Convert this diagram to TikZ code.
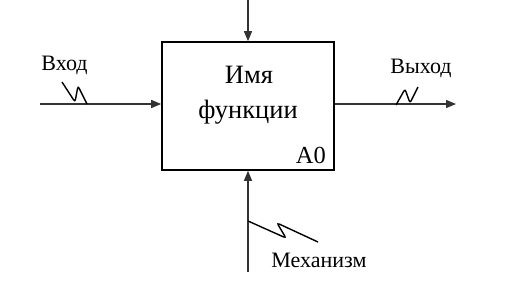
\documentclass[tikz,border=0pt]{standalone}
\usepackage{fontspec}
\setmainfont{Liberation Serif}
\usepackage{tikz}
\usetikzlibrary{arrows.meta,positioning}
\definecolor{IdefLine}{RGB}{51,51,51}

\begin{document}
\begin{tikzpicture}[x=1bp,y=-1bp,
  func/.style={draw=black,line width=1.6bp,minimum width=172bp,minimum height=128bp,inner sep=0pt},
  arrow/.style={-{Triangle[length=10bp,width=8bp]},draw=IdefLine,line width=1.3bp},
  squig/.style={draw=black,line width=1.4bp,rounded corners=2.5bp},
  lbl/.style={font=\fontsize{22bp}{26bp}\selectfont,inner sep=0pt,anchor=base},
  title/.style={font=\fontsize{26.5bp}{30bp}\selectfont,inner sep=0pt,anchor=base}
]
\useasboundingbox (0,0) rectangle (516,290);
\node[func] (fn) at (248,106) {};
\node[title] (name) at (249,83) {Имя};
\node[title] (name2) at (248,118) {функции};
\node[lbl,anchor=base east,font=\fontsize{24.5bp}{28bp}\selectfont] (num) at (326,163) {A0};
\coordinate (ctrl) at (248,0);
\coordinate (inp) at (40,104);
\coordinate (out) at (456,104);
\coordinate (mech) at (248,272);
\draw[arrow] (ctrl)--(fn.north);
\draw[arrow] (inp)--(inp-|fn.west);
\draw[arrow] (out-|fn.east)--(out);
\draw[arrow] (mech)--(fn.south);
\node[lbl] (inlbl) at (64.5,70) {Вход};
\node[lbl] (outlbl) at (421,73) {Выход};
\node[lbl] (mechlbl) at (319,267) {Механизм};
% squiggles
\draw[squig] (62,82)--(75,102)--(78,86)--(87,104);
\draw[squig] (396,105)--(405,89)--(410,103)--(418,87);
\draw[squig] (248,221)--(286,238)--(277,223)--(318,242);
\end{tikzpicture}
\end{document}
